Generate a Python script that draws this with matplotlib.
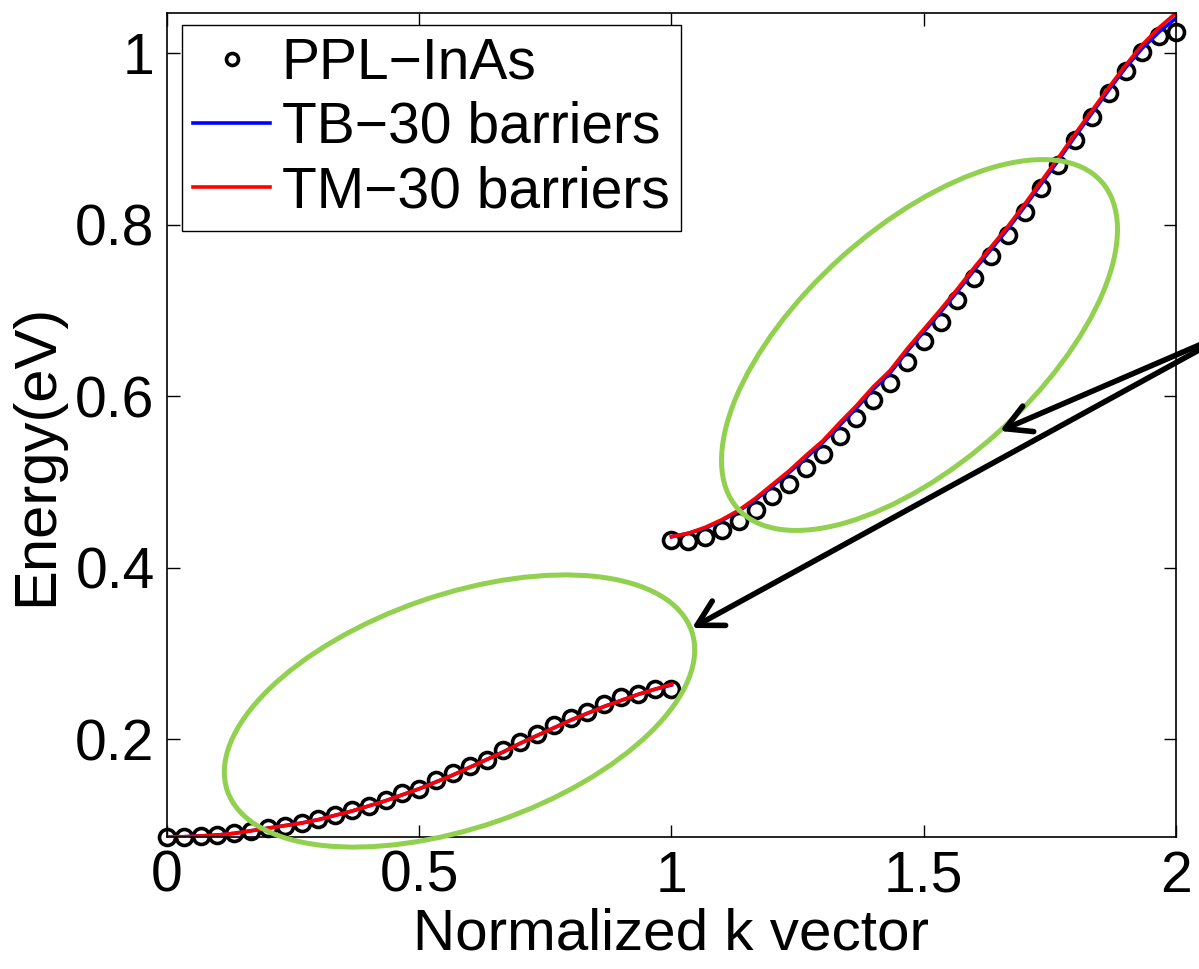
import numpy as np
import matplotlib
matplotlib.use("Agg")
import matplotlib.pyplot as plt
from matplotlib.patches import Ellipse, FancyArrowPatch

plt.rcParams['font.family'] = ['Liberation Sans', 'DejaVu Sans']

# k vector, two bands (0..1 and 1..2), 31 points each
k_lo = np.linspace(0, 1, 31)
k_hi = np.linspace(1, 2, 31)

# PPL-InAs points
ppl_lo = [0.086, 0.086, 0.087, 0.088, 0.090, 0.093, 0.096, 0.098, 0.102, 0.107,
          0.111, 0.117, 0.122, 0.129, 0.137, 0.142, 0.152, 0.160, 0.168, 0.175,
          0.187, 0.197, 0.206, 0.216, 0.224, 0.232, 0.241, 0.249, 0.253, 0.258, 0.258]
ppl_hi = [0.432, 0.431, 0.436, 0.444, 0.454, 0.467, 0.483, 0.498, 0.516, 0.533,
          0.554, 0.574, 0.596, 0.615, 0.640, 0.664, 0.687, 0.712, 0.738, 0.763,
          0.788, 0.815, 0.843, 0.870, 0.899, 0.926, 0.954, 0.979, 1.002, 1.020, 1.025]

# TB, 30 barriers
tb_lo = [0.086, 0.086, 0.087, 0.088, 0.090, 0.093, 0.096, 0.099, 0.102, 0.106,
         0.111, 0.116, 0.122, 0.128, 0.135, 0.142, 0.150, 0.158, 0.167, 0.176,
         0.185, 0.195, 0.204, 0.213, 0.222, 0.230, 0.238, 0.245, 0.252, 0.258, 0.263]
tb_hi = [0.436, 0.440, 0.446, 0.455, 0.466, 0.479, 0.495, 0.511, 0.528, 0.546,
         0.566, 0.586, 0.608, 0.627, 0.652, 0.675, 0.698, 0.722, 0.747, 0.771,
         0.795, 0.821, 0.848, 0.875, 0.903, 0.930, 0.957, 0.983, 1.006, 1.025, 1.041]

# TM, 30 barriers
tm_lo = [0.086, 0.086, 0.087, 0.088, 0.090, 0.093, 0.096, 0.099, 0.102, 0.106,
         0.111, 0.116, 0.122, 0.128, 0.135, 0.142, 0.150, 0.158, 0.167, 0.176,
         0.185, 0.195, 0.204, 0.213, 0.222, 0.230, 0.238, 0.245, 0.252, 0.258, 0.264]
tm_hi = [0.436, 0.440, 0.447, 0.456, 0.467, 0.481, 0.497, 0.513, 0.531, 0.548,
         0.569, 0.589, 0.611, 0.630, 0.655, 0.678, 0.701, 0.725, 0.750, 0.774,
         0.798, 0.824, 0.851, 0.878, 0.906, 0.933, 0.960, 0.986, 1.010, 1.030, 1.047]

xticks = [0, 0.5, 1, 1.5, 2]
xtick_labels = ['0', '0.5', '1', '1.5', '2']
yticks = [0.2, 0.4, 0.6, 0.8, 1]
ytick_labels = ['0.2', '0.4', '0.6', '0.8', '1']

fs = 41

fig = plt.figure(figsize=(11.99, 9.69), dpi=100)
ax = fig.add_axes([0.1393, 0.1362, 0.8415, 0.8504])

circ = dict(ls='none', marker='o', mfc='none', mec='k', ms=11.5, mew=2.6, clip_on=False)
ax.plot(k_lo, ppl_lo, label='PPL\u2212InAs', **circ)
ax.plot(k_hi, ppl_hi, label='_nolegend_', **circ)
ax.plot(k_lo, tb_lo, color='b', lw=2.6, label='TB\u221230 barriers')
ax.plot(k_hi, tb_hi, color='b', lw=2.6, label='_nolegend_')
ax.plot(k_lo, tm_lo, color='r', lw=2.6, label='TM\u221230 barriers')
ax.plot(k_hi, tm_hi, color='r', lw=2.6, label='_nolegend_')

ax.set_xlim(0, 2)
ax.set_ylim(0.0857, 1.047)
ax.set_xticks(xticks)
ax.set_xticklabels(xtick_labels)
ax.set_yticks(yticks)
ax.set_yticklabels(ytick_labels)
ax.tick_params(direction='in', top=True, right=True, length=9, width=1,
               labelsize=fs, pad=9)
for s in ax.spines.values():
    s.set_linewidth(1.2)

ax.set_xlabel('Normalized k vector', fontsize=42)
ax.set_ylabel('Energy(eV)', fontsize=43)
ax.xaxis.set_label_coords(0.5, -0.085)
ax.yaxis.set_label_coords(-0.102, 0.4636)

leg = ax.legend(loc='upper left', bbox_to_anchor=(0.0149, 0.985), borderaxespad=0,
                fontsize=fs, fancybox=False, edgecolor='k', framealpha=1,
                handlelength=1.35, handletextpad=0.2, borderpad=0.2,
                labelspacing=0.18, markerscale=0.75)
leg.get_frame().set_linewidth(1.0)

# highlight ellipses and arrows, drawn in pixel space on top
ov = fig.add_axes([0, 0, 1, 1], zorder=5)
ov.set_xlim(0, 1199)
ov.set_ylim(969, 0)
ov.axis('off')

green = '#92d050'
ellipses = [((459.5, 711), 491, 233, -19), ((919.5, 345), 489, 235, -42)]
for c, w, h, ang in ellipses:
    ov.add_patch(Ellipse(c, w, h, angle=ang, fill=False, ec=green, lw=3.6))

arrow_tail = (1241, 327)
arrow_tips = [(1000, 431), (692, 628)]
for tip in arrow_tips:
    ov.add_patch(FancyArrowPatch(arrow_tail, tip,
                                 arrowstyle='->,head_length=0.9,head_width=0.5',
                                 mutation_scale=20, lw=4, color='k',
                                 capstyle='round', joinstyle='round',
                                 shrinkA=0, shrinkB=0, clip_on=False))

fig.savefig('out.png', dpi=100)
